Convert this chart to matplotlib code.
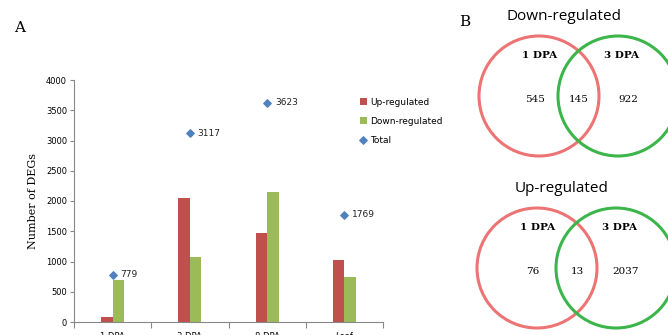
import matplotlib.pyplot as plt
import numpy as np
from matplotlib.patches import Circle

categories = ['1 DPA', '3 DPA', '8 DPA', 'Leaf']
up_regulated = [89, 2050, 1470, 1030]
down_regulated = [690, 1067, 2153, 739]
total = [779, 3117, 3623, 1769]
yticks = [0, 500, 1000, 1500, 2000, 2500, 3000, 3500, 4000]

venn_down = [545, 145, 922]
venn_up = [76, 13, 2037]
venn_sets = ['1 DPA', '3 DPA']

W, H = 668, 335
fig = plt.figure(figsize=(W / 100, H / 100), dpi=100)

# panel A: bar chart
ax = fig.add_axes([74 / W, 13 / H, 309 / W, 242 / H])
x = np.arange(len(categories))
bw = 0.15
b1 = ax.bar(x - bw / 2, up_regulated, bw, color='#C0504D', label='Up-regulated')
b2 = ax.bar(x + bw / 2, down_regulated, bw, color='#9BBB59', label='Down-regulated')
sc = ax.scatter(x, total, marker='D', s=14, color='#4F81BD', label='Total', zorder=3)
for xi, t in zip(x, total):
    ax.text(xi + 0.1, t, str(t), fontsize=6.5, va='center', ha='left', color='#222222')

ax.set_xlim(-0.5, len(categories) - 0.5)
ax.set_ylim(0, 4000)
ax.set_yticks(yticks)
ax.tick_params(axis='y', labelsize=6, length=3, color='#888888', pad=2)
ax.set_xticks(np.arange(len(categories) + 1) - 0.5, minor=False)
ax.set_xticklabels([])
ax.tick_params(axis='x', length=4, color='#888888')
ax.set_xticks(x, minor=True)
ax.set_xticklabels(categories, minor=True)
ax.tick_params(axis='x', which='minor', length=0, labelsize=6, pad=7)
for s in ['top', 'right']:
    ax.spines[s].set_visible(False)
for s in ['left', 'bottom']:
    ax.spines[s].set_color('#888888')
ax.set_ylabel('Number of DEGs', family='DejaVu Serif', fontsize=8, labelpad=6)

ax.legend(handles=[b1, b2, sc], loc='upper left', bbox_to_anchor=(0.9, 0.96), frameon=False,
          fontsize=6.5, handlelength=0.7, handleheight=0.7, labelspacing=1.1,
          handletextpad=0.4)

fig.text(20 / W, 1 - 28 / H, 'A', family='DejaVu Serif', fontsize=11, va='center', ha='center')
fig.text(465 / W, 1 - 22 / H, 'B', family='DejaVu Serif', fontsize=11, va='center', ha='center')

# panel B: venn diagrams drawn in pixel space
vax = fig.add_axes([0, 0, 1, 1])
vax.set_xlim(0, W)
vax.set_ylim(H, 0)
vax.axis('off')


def venn(cx, cy, title, counts):
    r = 60
    vax.add_patch(Circle((cx, cy), r, fill=False, ec='#EC7474', lw=2.2))
    vax.add_patch(Circle((cx + 79, cy), r, fill=False, ec='#3CB54A', lw=2.2))
    vax.text(cx + 25, cy - 80, title, fontsize=11, ha='center', va='center', family='Open Sans')
    vax.text(cx + 1, cy - 40, venn_sets[0], fontsize=7.5, weight='bold', ha='center', va='center', family='DejaVu Serif')
    vax.text(cx + 83, cy - 40, venn_sets[1], fontsize=7.5, weight='bold', ha='center', va='center', family='DejaVu Serif')
    vax.text(cx - 4, cy + 3, str(counts[0]), fontsize=7.5, ha='center', va='center', family='DejaVu Serif')
    vax.text(cx + 40, cy + 3, str(counts[1]), fontsize=7.5, ha='center', va='center', family='DejaVu Serif')
    vax.text(cx + 89, cy + 3, str(counts[2]), fontsize=7.5, ha='center', va='center', family='DejaVu Serif')


venn(539, 96, 'Down-regulated', venn_down)
venn(537, 268, 'Up-regulated', venn_up)

fig.savefig('out.png', dpi=100)
